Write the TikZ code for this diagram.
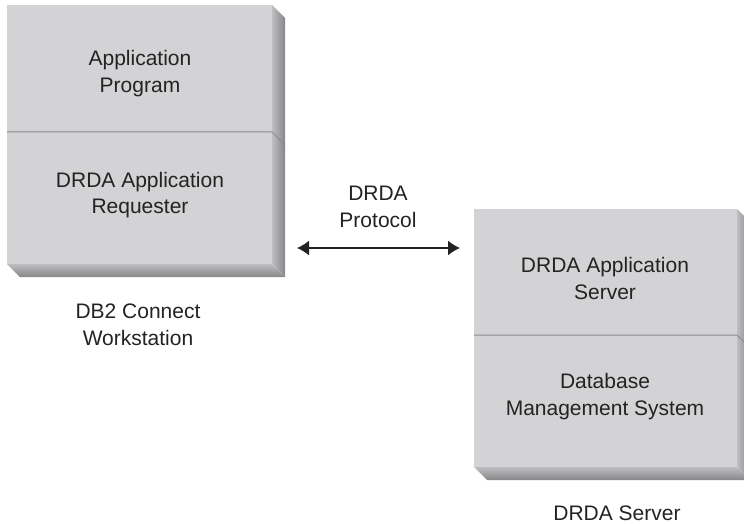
\documentclass[tikz,border=0pt]{standalone}
\usepackage{fontspec}
\setmainfont{Liberation Sans}
\usetikzlibrary{arrows.meta,positioning}
\definecolor{facegray}{RGB}{211,211,213}
\definecolor{sidelight}{RGB}{190,190,192}
\definecolor{sidedark}{RGB}{135,135,138}
\definecolor{linegray}{RGB}{140,140,142}
\definecolor{inkgray}{RGB}{35,35,35}

\tikzset{
	boxtext/.style={align=center,inner sep=0pt,text=inkgray,font=\fontsize{10.5}{13.4}\selectfont},
	divider/.style={draw=linegray,line width=0.5pt},
	proto/.style={draw=inkgray,line width=0.75pt,{Latex[length=6pt,width=7.5pt]}-{Latex[length=6pt,width=7.5pt]}}
}

\begin{document}
\begin{tikzpicture}[x=0.5pt,y=-0.5pt]
	\useasboundingbox (0,0) rectangle (744,524);
	% the two bevelled boxes
	\foreach \xa/\ya/\xb/\yb/\ym in {7/5/272/264/132, 474/209/737/467/335}{
		\fill[facegray] (\xa,\ya) rectangle (\xb,\yb);
		\shade[left color=sidelight,right color=sidedark] (\xb,\ya)--(\xb+13,\ya+13)--(\xb+13,\yb+13)--(\xb,\yb)--cycle;
		\shade[top color=sidelight,bottom color=sidedark] (\xa,\yb)--(\xb,\yb)--(\xb+13,\yb+13)--(\xa+13,\yb+13)--cycle;
		\draw[divider] (\xa,\ym)--(\xb,\ym)--(\xb+13,\ym+13);
	}
	% texts
	\node[boxtext] (wstop) at (140,73.5) {Application\\Program};
	\node[boxtext] (wsbot) at (140,195) {DRDA Application\\Requester};
	\node[boxtext] (wslabel) at (138,325) {DB2 Connect\\Workstation};
	\node[boxtext] (srvtop) at (605,278.5) {DRDA Application\\Server};
	\node[boxtext] (srvbot) at (605,396.5) {Database\\Management System};
	\node[boxtext] (srvlabel) at (617,513) {DRDA Server};
	\node[boxtext] (protolabel) at (378,206.5) {DRDA\\Protocol};
	% protocol arrow
	\coordinate (protoL) at (297,248);
	\coordinate (protoR) at (460,248);
	\draw[proto] (protoL)--(protoR);
\end{tikzpicture}
\end{document}
